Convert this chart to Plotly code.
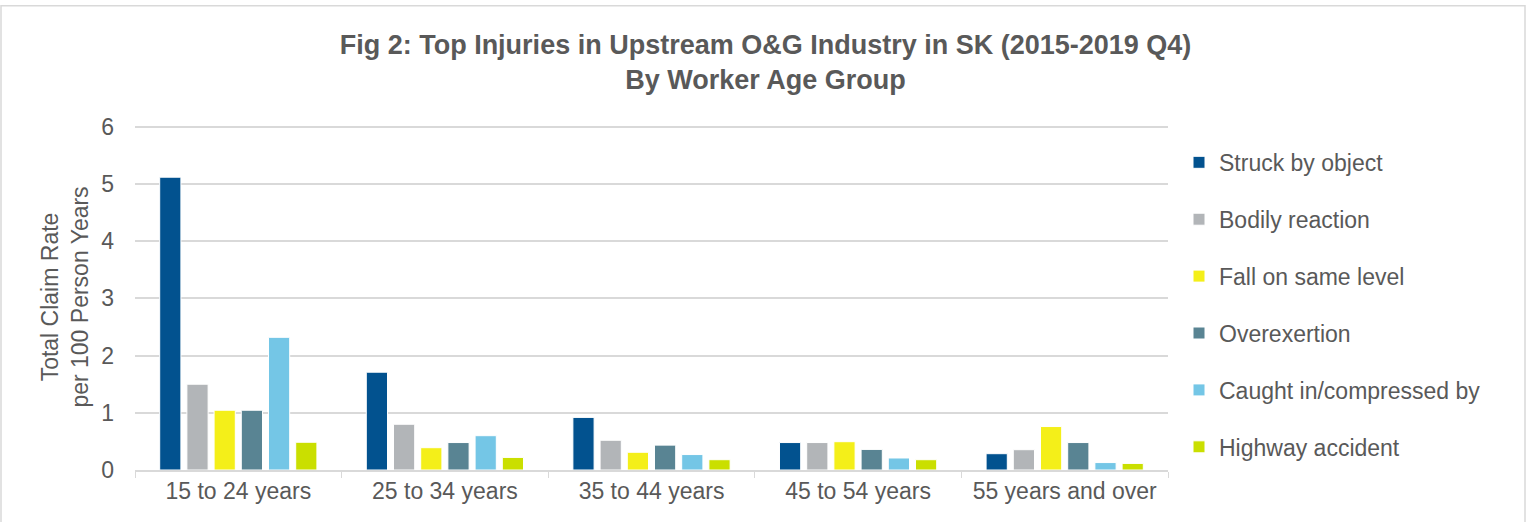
import plotly.graph_objects as go

categories = ["15 to 24 years", "25 to 34 years", "35 to 44 years", "45 to 54 years", "55 years and over"]

struck_by_object = [5.12, 1.71, 0.92, 0.48, 0.285]
bodily_reaction = [1.50, 0.80, 0.52, 0.48, 0.355]
fall_on_same_level = [1.045, 0.39, 0.31, 0.495, 0.76]
overexertion = [1.045, 0.48, 0.435, 0.36, 0.48]
caught_in = [2.32, 0.60, 0.27, 0.21, 0.13]
highway_accident = [0.485, 0.22, 0.18, 0.18, 0.115]

series_names = ["Struck by object", "Bodily reaction", "Fall on same level",
                "Overexertion", "Caught in/compressed by", "Highway accident"]
series_values = [struck_by_object, bodily_reaction, fall_on_same_level,
                 overexertion, caught_in, highway_accident]
series_colors = ["#02528F", "#B2B5B8", "#F4EF19", "#598493", "#74C6E6", "#CADF00"]

y_ticks = [0, 1, 2, 3, 4, 5, 6]
y_max = 6.05

FONT = "Liberation Sans, Arial, sans-serif"
GRAY = "#595959"

fig = go.Figure()
for i, (name, vals, col) in enumerate(zip(series_names, series_values, series_colors)):
    fig.add_trace(go.Bar(
        x=categories, y=vals, name=name,
        marker=dict(color=col, line=dict(color="white", width=1)),
        legendgroup=f"g{i}",
    ))

W, H = 1531, 522
unit = 343 / 6.0
ph = unit * y_max
pw = 1033
L = 135
T = 470 - ph
R, B = W - L - pw, H - T - ph

fig.update_layout(
    width=W, height=H,
    margin=dict(l=L, r=R, t=T, b=B, autoexpand=False),
    paper_bgcolor="white", plot_bgcolor="white",
    font=dict(family=FONT, color=GRAY, size=23),
    barmode="group", bargap=0.21, bargroupgap=0.22,
    title=dict(
        text="<b>Fig 2: Top Injuries in Upstream O&G Industry in SK (2015-2019 Q4)<br>By Worker Age Group</b>",
        x=0.5, xanchor="center", y=1 - 54 / H, yanchor="middle", yref="container",
        font=dict(family=FONT, size=27, color=GRAY),
    ),
    legend=dict(
        x=(1179 - L) / pw, xanchor="left", y=1 - (141 - T) / ph, yanchor="top",
        font=dict(family=FONT, size=23, color=GRAY),
        tracegroupgap=24, traceorder="grouped",
        bgcolor="rgba(0,0,0,0)",
    ),
    xaxis=dict(
        showline=True, linecolor="#D9D9D9", linewidth=1.5,
        ticks="outside", tickson="boundaries", ticklen=6, tickcolor="#D9D9D9",
        tickfont=dict(family=FONT, size=23, color=GRAY),
        showgrid=False,
    ),
    yaxis=dict(
        range=[0, y_max], tickvals=y_ticks, showgrid=True, gridcolor="#D9D9D9", gridwidth=1.5,
        zeroline=False, showline=False, ticks="", ticklabelstandoff=20,
        tickfont=dict(family=FONT, size=23, color=GRAY),
        title=dict(text="Total Claim Rate<br>per 100 Person Years", standoff=6,
                   font=dict(family=FONT, size=23, color=GRAY)),
    ),
    shapes=[dict(type="rect", xref="paper", yref="paper",
                 x0=(1 - L) / pw, x1=(1525 - L) / pw,
                 y0=-(B + 20) / ph, y1=1 + (T - 6) / ph,
                 line=dict(color="#D9D9D9", width=1.5), fillcolor="rgba(0,0,0,0)", layer="below")],
)

fig.write_html("out.html", config={"displayModeBar": False},
               post_script="document.body.style.margin='0';")
